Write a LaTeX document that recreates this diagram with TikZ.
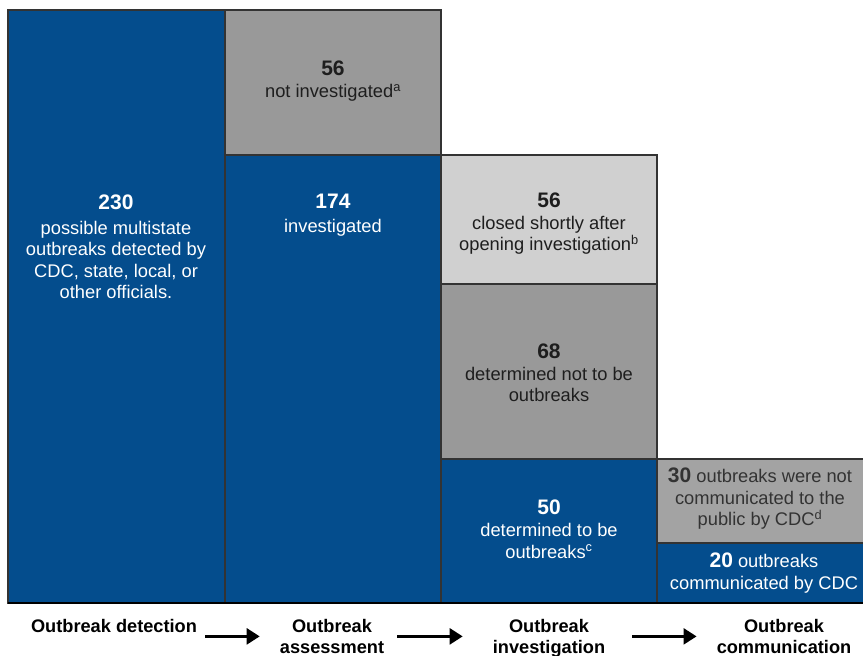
\documentclass[tikz,border=0pt]{standalone}
\usepackage{fontspec}
\setmainfont{Liberation Sans}
\usetikzlibrary{positioning,arrows.meta}

\definecolor{cdcblue}{RGB}{4,77,141}
\definecolor{midgray}{RGB}{153,153,153}
\definecolor{palegray}{RGB}{208,208,208}
\definecolor{edgegray}{RGB}{51,51,51}
\definecolor{inkgray}{RGB}{30,30,30}

\tikzset{
  box/.style={draw=edgegray, line width=1.2pt, anchor=north west, inner sep=0pt, outer sep=0pt},
  txt/.style={align=center, font=\fontsize{18.3}{21.5}\selectfont},
  stage/.style={align=center, anchor=north, inner sep=0pt, font=\bfseries\fontsize{18.2}{21}\selectfont},
  flow/.style={line width=2.5pt, -{Triangle[length=13pt,width=16pt]}}
}
\newcommand{\bignum}[1]{{\bfseries\fontsize{21}{22}\selectfont #1}}

\begin{document}
\begin{tikzpicture}[x=1pt, y=-1pt]
  \useasboundingbox (0,0) rectangle (863,656);

  % Columns of boxes
  \node[box, fill=cdcblue, minimum width=217pt, minimum height=593pt] (det) at (8,10) {};
  \node[box, fill=midgray, minimum width=216pt, minimum height=145pt] (notinv) at (225,10) {};
  \node[box, fill=cdcblue, minimum width=216pt, minimum height=448pt] (inv) at (225,155) {};
  \node[box, fill=palegray, minimum width=216pt, minimum height=129pt] (closed) at (441,155) {};
  \node[box, fill=midgray, minimum width=216pt, minimum height=175pt] (notob) at (441,284) {};
  \node[box, fill=cdcblue, minimum width=216pt, minimum height=144pt] (ob) at (441,459) {};
  \node[box, fill=midgray!90!white, minimum width=212pt, minimum height=84pt] (notcom) at (657,459) {};
  \node[box, fill=cdcblue, minimum width=212pt, minimum height=60pt] (com) at (657,543) {};

  % Base line
  \draw[line width=2pt] (det.south west) -- (com.south east);

  % Box texts
  \node[txt, white] (detT) at (116,247) {\bignum{230}\\[3pt]possible multistate\\outbreaks detected by\\CDC, state, local, or\\other officials.};
  \node[txt, inkgray] (notinvT) at (333,81) {\bignum{56}\\[1pt]not investigated\textsuperscript{a}};
  \node[txt, white] (invT) at (333,215) {\bignum{174}\\[2pt]investigated};
  \node[txt, inkgray] (closedT) at (549,224) {\bignum{56}\\closed shortly after\\opening investigation\textsuperscript{b}};
  \node[txt, inkgray] (notobT) at (549,373) {\bignum{68}\\determined not to be\\outbreaks};
  \node[txt, white] (obT) at (549,529) {\bignum{50}\\[1pt]determined to be\\outbreaks\textsuperscript{c}};
  \node[txt, edgegray] (notcomT) at (760,499) {\bignum{30} outbreaks were not\\communicated to the\\public by CDC\textsuperscript{d}};
  \node[txt, white] (comT) at (764,573) {\bignum{20} outbreaks\\communicated by CDC};

  % Stages
  \node[stage] (sdet) at (114,619) {Outbreak detection};
  \node[stage] (sasmt) at (332,619) {Outbreak\\assessment};
  \node[stage] (sinv) at (549,619) {Outbreak\\investigation};
  \node[stage] (scom) at (784,619) {Outbreak\\communication};

  \draw[flow, shorten <=8pt, shorten >=20pt] (sdet.east |- sasmt.west) -- (sasmt.west);
  \draw[flow, shorten <=13pt, shorten >=30pt] (sasmt.east) -- (sasmt.east -| sinv.west);
  \draw[flow, shorten <=27pt, shorten >=20pt] (sasmt.east -| sinv.east) -- (sasmt.east -| scom.west);
\end{tikzpicture}
\end{document}
